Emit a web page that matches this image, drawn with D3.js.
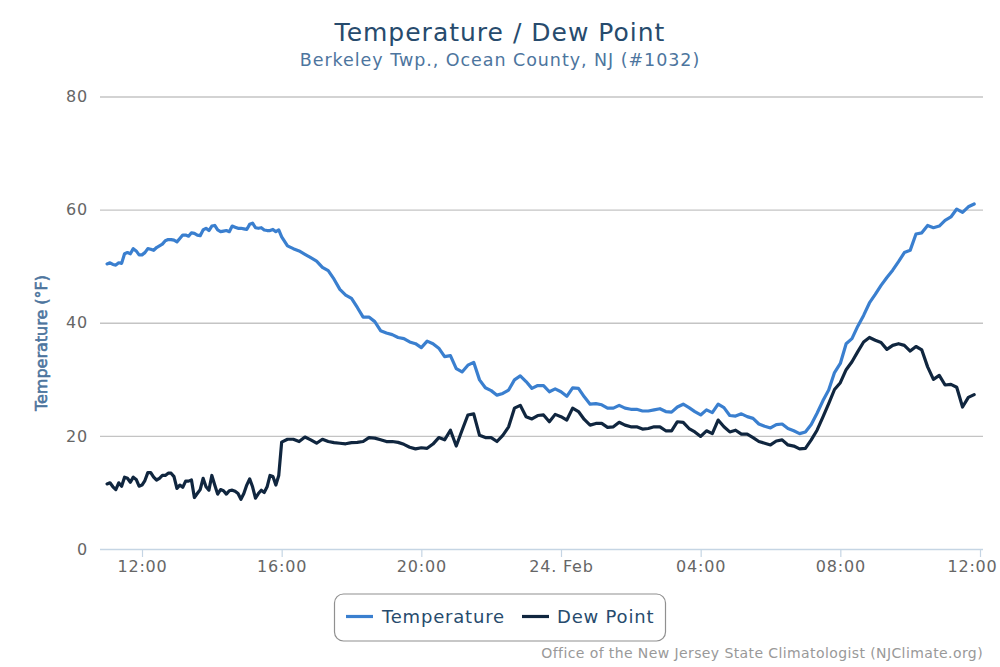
<!DOCTYPE html>
<html><head><meta charset="utf-8">
<script src="https://d3js.org/d3.v7.min.js"></script>
<style>
html,body{margin:0;padding:0;background:#fff}
svg{display:block}
text{font-family:"DejaVu Sans",sans-serif}
</style></head><body>
<svg id="c" width="1000" height="667"></svg>
<script>
const chartTitle="Temperature / Dew Point";
const chartSubtitle="Berkeley Twp., Ocean County, NJ (#1032)";
const yTitle="Temperature (°F)";
const credit="Office of the New Jersey State Climatologist (NJClimate.org)";
const seriesNames=["Temperature","Dew Point"];
const seriesColors=["#3a7fcf","#10263f"];
const yTicks=[0,20,40,60,80];
const xTickTimes=["2020-02-23T12:00","2020-02-23T16:00","2020-02-23T20:00","2020-02-24T00:00","2020-02-24T04:00","2020-02-24T08:00","2020-02-24T12:00"];
const startTime="2020-02-23T11:00";
// 11:00-16:00 is read every 5 minutes, the rest every 10 minutes from 16:10
const temperatureEarly=[50.4,50.6,50.3,50.2,50.6,50.5,52.2,52.4,52.2,53.1,52.7,52,52,52.4,53.1,53,52.8,53.3,53.6,53.9,54.5,54.7,54.7,54.6,54.3,54.9,55.5,55.5,55.3,55.9,55.8,55.5,55.4,56.4,56.7,56.3,57.1,57.2,56.4,56.1,56.2,56.3,56.1,57.1,56.9,56.7,56.7,56.6,56.5,57.4,57.6,56.8,56.7,56.8,56.4,56.3,56.3,56.5,56.1,56.4,55.2];
const temperatureLate=[53.6,53.1,52.7,52.1,51.5,50.9,49.8,49.2,47.7,45.9,44.9,44.3,42.7,41.0,41.0,40.2,38.6,38.2,37.9,37.4,37.2,36.6,36.3,35.6,36.75,36.3,35.5,34,34.2,31.9,31.3,32.5,33,29.9,28.5,28,27.2,27.5,28.1,29.9,30.6,29.6,28.4,28.9,28.9,27.8,28.3,27.8,27,28.5,28.4,26.9,25.6,25.7,25.5,24.9,24.9,25.4,24.9,24.7,24.7,24.4,24.4,24.6,24.8,24.3,24.2,25.1,25.6,25,24.3,23.7,24.6,24.1,25.6,25,23.6,23.5,23.9,23.4,23.1,22.1,21.7,21.4,22,22.1,21.3,20.9,20.4,20.7,22,24,26.2,28.1,31.2,32.8,36.3,37.2,39.4,41.3,43.5,45,46.6,48,49.3,50.8,52.4,52.8,55.7,55.9,57.2,56.8,57.1,58.1,58.7,60.1,59.5,60.5,61];
const dewPointEarly=[11.5,11.7,11,10.5,11.7,11.1,12.7,12.5,11.8,12.7,12.3,11.1,11.3,12.1,13.5,13.5,12.7,12.2,12.5,13,13,13.4,13.4,12.8,10.7,11.3,10.9,12,12,12.2,9.1,9.8,10.5,12.5,11,10.4,13,11.3,9.7,10.5,10.3,9.7,10.3,10.4,10.2,9.8,8.8,9.8,11.3,12.4,11,9,9.8,10.4,10,11,13,12.8,11.3,13,18.9];
const dewPointLate=[19.4,19.4,19,19.8,19.3,18.7,19.4,19,18.8,18.7,18.6,18.8,18.85,19,19.7,19.6,19.3,19,19,18.85,18.5,18,17.7,17.9,17.8,18.55,19.7,19.3,21,18.2,21,23.7,23.9,20.1,19.7,19.7,19,20.1,21.6,24.9,25.4,23.4,23,23.6,23.7,22.5,23.8,23.4,22.8,24.9,24.3,22.9,21.9,22.2,22.2,21.5,21.6,22.4,21.9,21.6,21.6,21.2,21.3,21.6,21.6,20.9,20.9,22.5,22.4,21.3,20.7,19.9,20.9,20.4,22.8,21.6,20.7,21,20.3,20.3,19.7,19,18.7,18.4,19.1,19.3,18.4,18.2,17.7,17.8,19.3,21,23.3,25.7,28.2,29.4,31.7,33.1,34.9,36.6,37.4,36.9,36.5,35.3,36,36.3,36,35,35.8,35.2,32.2,30,30.7,29,29.1,28.6,25.1,26.8,27.3];

const svg=d3.select("#c");
const parse=d3.timeParse("%Y-%m-%dT%H:%M");
const t0=parse(startTime);
const minutesAt=i=>i<=60?i*5:300+(i-60)*10;
const timeAt=i=>d3.timeMinute.offset(t0,minutesAt(i));
const xDates=xTickTimes.map(parse);
const x=d3.scaleTime().domain([xDates[0],xDates[6]]).range([142,980]);
const y=d3.scaleLinear().domain([0,80]).range([549,96.5]);
const plotL=100,plotR=983;

const gy=svg.append("g").attr("transform",`translate(${plotL},0)`)
  .call(d3.axisLeft(y).tickValues(yTicks).tickSize(-(plotR-plotL)).tickPadding(12));
gy.select(".domain").remove();
gy.selectAll(".tick line").attr("stroke","#c4c4c4").attr("stroke-width",1.4)
  .filter(d=>d===0).remove();
gy.selectAll(".tick text").attr("fill","#666").style("font-size","16px").style("letter-spacing","0.8px");

const gx=svg.append("g").attr("transform","translate(0,549)")
  .call(d3.axisBottom(x).tickValues(xDates).tickSize(8).tickPadding(4)
    .tickFormat(d=>d.getHours()===0?d3.timeFormat("%-d. %b")(d):d3.timeFormat("%H:%M")(d)));
gx.select(".domain").attr("d",`M${plotL},0.5H${plotR}`).attr("stroke","#c5d5e4").attr("stroke-width",1.4);
gx.selectAll(".tick line").attr("stroke","#c5d5e4").attr("stroke-width",1.2);
gx.selectAll(".tick text").attr("fill","#666").style("font-size","16px").style("letter-spacing","0.8px");
gx.selectAll(".tick text").filter((d,i)=>i===xDates.length-1).attr("dx",-8);

const line=d3.line().x((d,i)=>x(timeAt(i))).y(d=>y(d));
[temperatureEarly.concat(temperatureLate),dewPointEarly.concat(dewPointLate)].forEach((s,k)=>{
  svg.append("path").datum(s).attr("d",line).attr("fill","none")
    .attr("stroke",seriesColors[k]).attr("stroke-width",3.2)
    .attr("stroke-linejoin","round").attr("stroke-linecap","round");
});

svg.append("text").attr("x",500).attr("y",41).attr("text-anchor","middle")
  .attr("fill","#274b6d").style("font-size","25px").style("letter-spacing","1px").text(chartTitle);
svg.append("text").attr("x",500).attr("y",66).attr("text-anchor","middle")
  .attr("fill","#4d759e").style("font-size","17.5px").style("letter-spacing","0.95px").text(chartSubtitle);
svg.append("text").attr("transform","translate(47,343) rotate(-90)").attr("text-anchor","middle")
  .attr("fill","#4d759e").attr("stroke","#4d759e").attr("stroke-width",0.6)
  .style("font-size","16px").style("letter-spacing","0px").text(yTitle);

const lg=svg.append("g");
lg.append("rect").attr("x",334.5).attr("y",594).attr("width",331).attr("height",47)
  .attr("rx",9).attr("fill","#fff").attr("stroke","#909090").attr("stroke-width",1.2);
const swX=[346,522],txX=[382,557];
seriesNames.forEach((n,k)=>{
  lg.append("line").attr("x1",swX[k]).attr("x2",swX[k]+27).attr("y1",616.5).attr("y2",616.5)
    .attr("stroke",seriesColors[k]).attr("stroke-width",3.2);
  lg.append("text").attr("x",txX[k]).attr("y",623).attr("fill","#274b6d")
    .style("font-size","18px").style("letter-spacing","0.8px").text(n);
});

svg.append("text").attr("x",983).attr("y",658).attr("text-anchor","end")
  .attr("fill","#999").style("font-size","14px").style("letter-spacing","0.4px").text(credit);
</script>
</body></html>
